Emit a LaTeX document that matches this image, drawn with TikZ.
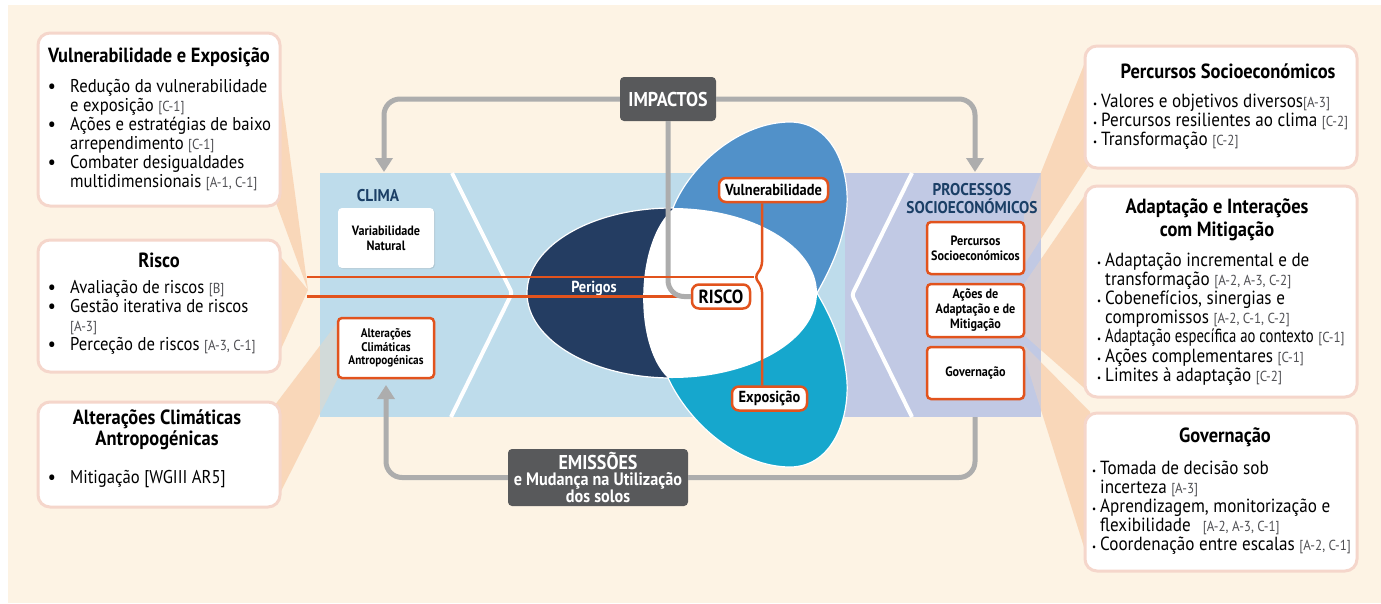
\documentclass[tikz,border=0pt]{standalone}
\usepackage{fontspec}
\setmainfont{PT Sans}[FakeStretch=0.9]
\usepackage{xcolor}
\usepackage{tikz}
\usetikzlibrary{calc, positioning}
\usetikzlibrary{arrows.meta, shadows}

\definecolor{cream}{RGB}{253,243,228}
\definecolor{peach}{RGB}{249,215,185}
\definecolor{boxpink}{RGB}{245,214,203}
\definecolor{climablue}{RGB}{190,220,235}
\definecolor{proclav}{RGB}{193,201,228}
\definecolor{navytext}{RGB}{27,63,102}
\definecolor{hazard}{RGB}{36,61,98}
\definecolor{vulblue}{RGB}{81,145,201}
\definecolor{expcyan}{RGB}{22,167,205}
\definecolor{riskorange}{RGB}{226,83,29}
\definecolor{darkbox}{RGB}{88,89,91}
\definecolor{flowgrey}{RGB}{173,173,173}
\definecolor{refgrey}{RGB}{80,80,84}

\newcommand{\rf}[1]{{\fontsize{14.5}{14}\selectfont\color{refgrey}#1}}
\newcommand{\sbul}{{\fontsize{10}{10}\selectfont\textbullet}}
\newcommand{\bbul}{{\bfseries\textbullet}}

\tikzset{
	infobox/.style = {draw=boxpink, line width=3pt, fill=white, rounded corners=12pt},
	boxtitle/.style = {font=\fontsize{20.5}{21}\selectfont\bfseries, align=center, inner sep=0pt},
	itemlist/.style = {font=\fontsize{18.5}{19}\selectfont, inner sep=0pt, anchor=base west},
	smallbox/.style = {fill=white, rounded corners=4pt, minimum width=96pt, minimum height=60pt,
		align=center, inner sep=1pt, font=\fontsize{13.5}{15}\selectfont\bfseries,
		drop shadow={opacity=0.2, shadow xshift=1pt, shadow yshift=-1pt}},
	orangebox/.style = {smallbox, draw=riskorange, line width=2.5pt},
	riskbox/.style = {fill=white, draw=riskorange, line width=2.5pt, rounded corners=7pt,
		inner sep=2pt, minimum height=24pt, font=\fontsize{16}{18}\selectfont\bfseries},
	greybox/.style = {fill=darkbox, text=white, rounded corners=4pt, align=center, inner sep=1pt},
	panellabel/.style = {text=navytext, font=\fontsize{17}{18}\selectfont\bfseries, align=center, inner sep=0pt},
	flow/.style = {draw=flowgrey, line width=5pt, rounded corners=16pt},
	flowarrow/.style = {flow, -{Triangle[width=17pt, length=14pt]}},
	riskline/.style = {draw=riskorange, line width=2.5pt},
	wedge/.style = {fill=peach},
	chevron/.style = {draw=white, line width=4pt, rounded corners=3pt}
}

\begin{document}
\begin{tikzpicture}[x=1pt, y=-1pt]
	\useasboundingbox (0,0) rectangle (1381,603);

	% 背景
	\fill[white] (0,0) rectangle (1381,603);
	\fill[cream] (8,5) rectangle (1381,603);

	% 扇形
	\fill[wedge] (275,45) -- (308,290) -- (275,200) -- cycle;
	\fill[wedge] (275,250) -- (308,290) -- (275,362) -- cycle;
	\fill[wedge] (275,405) -- (338,322) -- (338,378) -- (275,503) -- cycle;
	\fill[wedge] (1024,215) -- (1090,50) -- (1090,163) -- (1024,265) -- cycle;
	\fill[wedge] (1024,284) -- (1090,188) -- (1090,393) -- (1024,335) -- cycle;
	\fill[wedge] (1024,345) -- (1090,412) -- (1090,566) -- (1026,362) -- cycle;

	% 中间色带
	\fill[climablue] (320,173) rectangle (845,417);
	\fill[proclav] (845,173) rectangle (1041,417);
	\draw[chevron] (452,173) -- (512,293) -- (451,417);
	\draw[chevron] (912,173) -- (852,295) -- (912,417);
	\fill[wedge, opacity=0.35] (275,405) -- (338,322) -- (338,378) -- (275,503) -- cycle;
	\fill[wedge, opacity=0.35] (1024,215) -- (1090,50) -- (1090,163) -- (1024,265) -- cycle;
	\fill[wedge, opacity=0.35] (1024,284) -- (1090,188) -- (1090,393) -- (1024,335) -- cycle;
	\fill[wedge, opacity=0.35] (1024,345) -- (1090,412) -- (1090,566) -- (1026,362) -- cycle;

	% 三个叶片
	\fill[hazard, draw=white, line width=1.2pt] (672,293) ellipse [x radius=145, y radius=85];
	\fill[vulblue, draw=white, line width=1.2pt] (673,208) .. controls (690,165) and (740,122) .. (790,122)
		.. controls (835,122) and (852,175) .. (846,215) .. controls (842,245) and (830,270) .. (817,293) -- cycle;
	\fill[expcyan, draw=white, line width=1.2pt] (668,378) .. controls (690,425) and (740,467) .. (790,467)
		.. controls (835,467) and (852,412) .. (846,372) .. controls (842,340) and (830,315) .. (817,293) -- cycle;
	\begin{scope}
		\clip (672,293) ellipse [x radius=145, y radius=85];
		\fill[white] (674,208) .. controls (635,240) and (633,345) .. (668,378)
			-- (668,400) -- (830,400) -- (830,190) -- (674,190) -- cycle;
	\end{scope}

	% 左侧文本框
	\node[infobox, minimum width=242pt, minimum height=173pt] (ve) at (159,119.5) {};
	\node[boxtitle] (veTitle) at (159,57) {Vulnerabilidade e Exposição};
	\node[itemlist] (veList) at (48,92) {\begin{tabular}[t]{@{}p{22pt}@{}l@{}}
		\bbul & Redução da vulnerabilidade\\
		      & e exposição \rf{[C-1]}\\
		\bbul & Ações e estratégias de baixo\\
		      & arrependimento \rf{[C-1]}\\
		\bbul & Combater desigualdades\\
		      & multidimensionais \rf{[A-1, C-1]}
	\end{tabular}};

	\node[infobox, minimum width=242pt, minimum height=132pt] (risk) at (159,306) {};
	\node[boxtitle] (riskTitle) at (159,260) {Risco};
	\node[itemlist] (riskList) at (48,293) {\begin{tabular}[t]{@{}p{22pt}@{}l@{}}
		\bbul & Avaliação de riscos \rf{[B]}\\
		\bbul & Gestão iterativa de riscos\\
		      & \rf{[A-3]}\\
		\bbul & Perceção de riscos \rf{[A-3, C-1]}
	\end{tabular}};

	\node[infobox, minimum width=242pt, minimum height=105pt] (acc) at (159,454.5) {};
	\node[boxtitle] (accTitle) at (157,430) {Alterações Climáticas\\Antropogénicas};
	\node[itemlist] (accList) at (48,483) {\begin{tabular}[t]{@{}p{22pt}@{}l@{}}
		\bbul & Mitigação [WGIII AR5]
	\end{tabular}};

	% 右侧文本框
	\node[infobox, minimum width=272pt, minimum height=122pt] (sep) at (1221,107) {};
	\node[boxtitle] (sepTitle) at (1228,71) {Percursos Socioeconómicos};
	\node[itemlist, font=\fontsize{19}{18.8}\selectfont] (sepList) at (1093,107) {\begin{tabular}[t]{@{}p{8pt}@{}l@{}}
		\sbul & Valores e objetivos diversos\rf{[A-3]}\\
		\sbul & Percursos resilientes ao clima \rf{[C-2]}\\
		\sbul & Transformação \rf{[C-2]}
	\end{tabular}};

	\node[infobox, minimum width=272pt, minimum height=211pt] (adp) at (1221,291.5) {};
	\node[boxtitle, font=\fontsize{20.5}{23}\selectfont\bfseries] (adpTitle) at (1217,219.5) {Adaptação e Interações\\com Mitigação};
	\node[itemlist, font=\fontsize{19}{18.7}\selectfont] (adpList) at (1097,266) {\begin{tabular}[t]{@{}p{8pt}@{}l@{}}
		\sbul & Adaptação incremental e de\\
		      & transformação \rf{[A-2, A-3, C-2]}\\
		\sbul & Cobenefícios, sinergias e\\
		      & compromissos \rf{[A-2, C-1, C-2]}\\
		\sbul & \scalebox{0.86}[1]{Adaptação específica ao contexto} \rf{[C-1]}\\
		\sbul & Ações complementares \rf{[C-1]}\\
		\sbul & Limites à adaptação \rf{[C-2]}
	\end{tabular}};

	\node[infobox, minimum width=272pt, minimum height=158pt] (gvb) at (1221,492) {};
	\node[boxtitle] (gvbTitle) at (1225,437) {Governação};
	\node[itemlist, font=\fontsize{19}{18.8}\selectfont] (gvbList) at (1092,474) {\begin{tabular}[t]{@{}p{8pt}@{}l@{}}
		\sbul & Tomada de decisão sob\\
		      & incerteza \rf{[A-3]}\\
		\sbul & Aprendizagem, monitorização e\\
		      & flexibilidade\hspace{12pt}\rf{[A-2, A-3, C-1]}\\
		\sbul & Coordenação entre escalas \rf{[A-2, C-1]}
	\end{tabular}};

	% 中间节点
	\node[panellabel] (clima) at (378,196) {CLIMA};
	\node[smallbox] (varnat) at (386,238) {Variabilidade\\Natural};
	\node[orangebox, font=\fontsize{12.5}{13.5}\selectfont\bfseries] (alt) at (386,348) {Alterações\\Climáticas\\Antropogénicas};
	\node[panellabel] (proc) at (972,199) {PROCESSOS\\SOCIOECONÓMICOS};
	\node[orangebox, minimum width=97pt, minimum height=52pt, font=\fontsize{13.5}{15}\selectfont\bfseries] (perc) at (975.5,248) {Percursos\\Socioeconómicos};
	\node[orangebox, minimum width=97pt, minimum height=53pt, font=\fontsize{13.5}{15}\selectfont\bfseries] (acoes) at (975.5,310.5) {Ações de\\Adaptação e de\\Mitigação};
	\node[orangebox, minimum width=97pt, minimum height=52pt, font=\fontsize{13.5}{15}\selectfont\bfseries] (gov) at (975.5,373) {Governação};

	\node[text=white, font=\fontsize{16}{18}\selectfont\bfseries] (perigos) at (594,289) {Perigos};
	\node[riskbox, minimum width=109pt] (vul) at (773.5,190) {Vulnerabilidade};
	\node[riskbox, minimum width=58pt, font=\fontsize{19}{20}\selectfont\bfseries] (risco) at (721,296.5) {RISCO};
	\node[riskbox, minimum width=75pt] (exp) at (769.5,398.5) {Exposição};

	\node[greybox, minimum width=96pt, minimum height=44pt, font=\fontsize{20}{20}\selectfont\bfseries] (imp) at (668,99) {IMPACTOS};
	\node[greybox, minimum width=180pt, minimum height=57pt, font=\fontsize{18}{16.5}\selectfont\bfseries] (emi) at (598,477.5)
		{{\fontsize{20}{16.5}\selectfont EMISSÕES}\\e Mudança na Utilização\\dos solos};

	% 连线
	\coordinate (climaIn) at (384,172);
	\coordinate (procIn) at (975,172);
	\coordinate (altIn) at (386,385);
	\coordinate (procOut) at (975,417);
	\coordinate (riskIn1) at (307,277);
	\coordinate (riskIn2) at (307,296.5);
	\coordinate (brace) at (754,277);
	\coordinate (braceX) at (762,277);

	\draw[flowarrow] (imp.west) -| (climaIn);
	\draw[flowarrow] (imp.east) -| (procIn);
	\draw[flowarrow] (emi.west) -| (altIn);
	\draw[flow] (emi.east) -| (procOut);
	\draw[riskline] (riskIn2) -- (risco.west);
	\draw[flow] (imp.south) |- (risco.west);
	\draw[riskline] (riskIn1) -- (brace);
	\draw[riskline, rounded corners=6pt] (vul.south -| braceX) -- ($(braceX)+(0,-9)$) -- (brace)
		-- ($(braceX)+(0,9)$) -- (exp.north -| braceX);

\end{tikzpicture}
\end{document}
